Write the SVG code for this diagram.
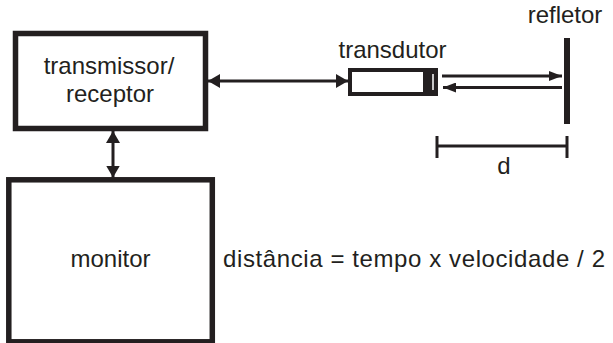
<svg xmlns="http://www.w3.org/2000/svg" width="613" height="343" viewBox="0 0 613 343">
<style>
.box{fill:#fff;stroke:#231f20;stroke-width:5.5}
.ln{fill:none;stroke:#231f20;stroke-width:3}
.t{font-family:"Liberation Sans",Arial,sans-serif;font-size:24px;fill:#231f20}
</style>
<defs>
<marker id="ah" markerUnits="userSpaceOnUse" markerWidth="12" markerHeight="14" refX="12" refY="7" orient="auto-start-reverse" viewBox="0 0 12 14">
<path d="M0,0 L12,7 L0,14 z" fill="#231f20"/>
</marker>
<marker id="ahs" markerUnits="userSpaceOnUse" markerWidth="13" markerHeight="10" refX="13" refY="5" orient="auto-start-reverse" viewBox="0 0 13 10">
<path d="M0,0 L13,5 L0,10 z" fill="#231f20"/>
</marker>
</defs>
<rect width="613" height="343" fill="#fff"/>
<g id="transmissor">
<rect class="box" x="15.5" y="33.5" width="190" height="95"/>
<text class="t" x="109" y="74" text-anchor="middle">transmissor/</text>
<text class="t" x="110" y="102" text-anchor="middle">receptor</text>
</g>
<g id="monitor">
<rect class="box" x="8.8" y="179.8" width="203.5" height="162"/>
<text class="t" x="110.5" y="267" text-anchor="middle">monitor</text>
</g>
<g id="transdutor">
<rect x="350" y="70" width="86" height="24" fill="#fff" stroke="#231f20" stroke-width="4"/>
<rect x="423" y="70" width="15" height="24" fill="#231f20"/>
<line x1="433" y1="74" x2="433" y2="90" stroke="#fff" stroke-width="1.5"/>
<text class="t" x="392.5" y="58" text-anchor="middle">transdutor</text>
</g>
<g id="refletor">
<rect x="564" y="38" width="6" height="86" fill="#231f20"/>
<text class="t" x="565" y="23" text-anchor="middle">refletor</text>
</g>
<g id="formula">
<text class="t" x="223" y="267" textLength="382" lengthAdjust="spacing">distância = tempo x velocidade / 2</text>
</g>
<g id="dimension">
<line class="ln" x1="437" y1="146" x2="567" y2="146"/>
<line class="ln" x1="437" y1="136" x2="437" y2="158"/>
<line class="ln" x1="567" y1="136" x2="567" y2="158"/>
<text class="t" x="504" y="174" text-anchor="middle">d</text>
</g>
<g id="connectors">
<line class="ln" x1="113" y1="131" x2="113" y2="177.5" marker-start="url(#ah)" marker-end="url(#ah)"/>
<line class="ln" x1="208" y1="81" x2="348" y2="81" marker-start="url(#ah)" marker-end="url(#ah)"/>
<line class="ln" x1="442" y1="76" x2="562" y2="76" marker-end="url(#ahs)"/>
<line class="ln" x1="562" y1="87.5" x2="443" y2="87.5" marker-end="url(#ahs)"/>
</g>
</svg>
